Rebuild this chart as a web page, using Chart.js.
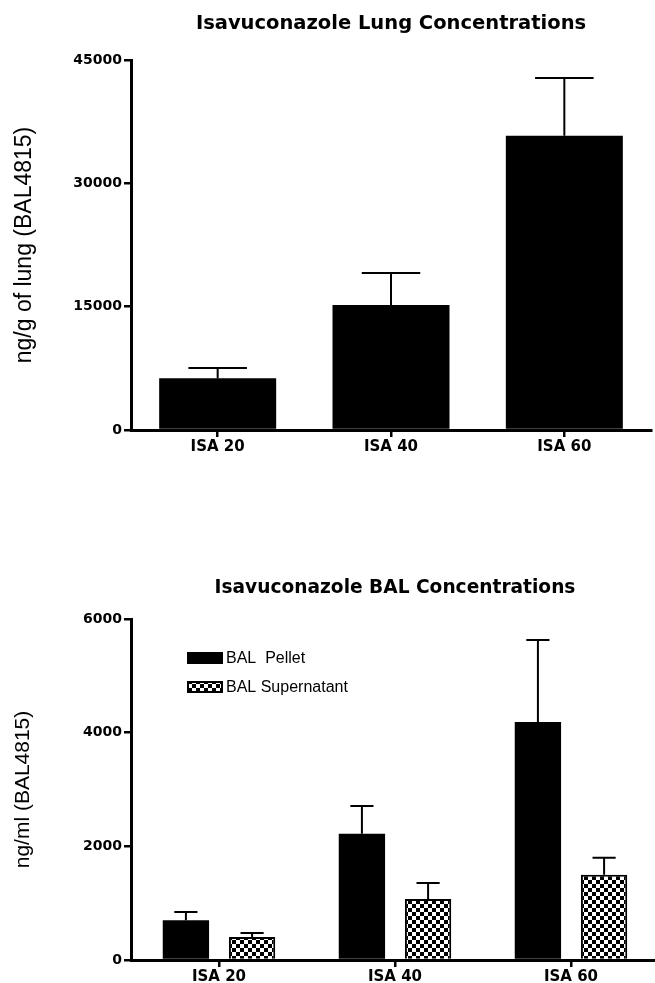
<!DOCTYPE html>
<html>
<head>
<meta charset="utf-8">
<script src="https://cdn.jsdelivr.net/npm/chart.js@4.4.1/dist/chart.umd.min.js"></script>
<style>
  html, body { margin: 0; padding: 0; background: #fff; }
  #wrap { position: relative; width: 655px; height: 983px; overflow: hidden; }
  #lungChart { position: absolute; left: 0; top: 0; }
  #balChart { position: absolute; left: 0; top: 500px; }
</style>
</head>
<body>
<div id="wrap">
  <canvas id="lungChart" width="655" height="500"></canvas>
  <canvas id="balChart" width="659" height="483"></canvas>
</div>
<script>
// categories and values
const doseLabels = ['ISA 20', 'ISA 40', 'ISA 60'];

const lungMean = [6300, 15200, 35800];
const lungSd = [1250, 3900, 7000];
const lungTicks = [0, 15000, 30000, 45000];

const pelletMean = [700, 2220, 4190];
const pelletSd = [145, 490, 1440];
const supMean = [405, 1075, 1500];
const supSd = [70, 280, 300];
const balTicks = [0, 2000, 4000, 6000];

const yTickFont = { family: 'DejaVu Sans', weight: 'bold', size: 14 };
const xTickFont = { family: 'DejaVu Sans', weight: 'bold', size: 15 };

// checkered fill for the supernatant bars
function checkerPattern() {
    const c = document.createElement('canvas');
    c.width = 8; c.height = 8;
    const g = c.getContext('2d');
    g.fillStyle = '#fff';
    g.fillRect(0, 0, 8, 8);
    g.fillStyle = '#000';
    g.fillRect(0, 0, 4, 4);
    g.fillRect(4, 4, 4, 4);
    return g.createPattern(c, 'repeat');
}

// upper error bars (mean + SD)
const errorBars = {
    id: 'errorBars',
    afterDatasetsDraw(chart) {
        const ctx = chart.ctx;
        const yScale = chart.scales.y;
        ctx.save();
        ctx.strokeStyle = '#000';
        ctx.lineWidth = 2;
        chart.data.datasets.forEach((ds, i) => {
            const meta = chart.getDatasetMeta(i);
            meta.data.forEach((bar, j) => {
                const yTop = yScale.getPixelForValue(ds.data[j] + ds.sd[j]);
                const half = bar.width / 4;
                ctx.beginPath();
                ctx.moveTo(bar.x, bar.y);
                ctx.lineTo(bar.x, yTop);
                ctx.moveTo(bar.x - half, yTop);
                ctx.lineTo(bar.x + half, yTop);
                ctx.stroke();
            });
        });
        ctx.restore();
    }
};

// legend drawn inside the plot area, as in the figure
const insideLegend = {
    id: 'insideLegend',
    afterDraw(chart) {
        const ctx = chart.ctx;
        const x = 187, rows = [158, 187];
        ctx.save();
        ctx.font = '16px "Liberation Sans"';
        ctx.textBaseline = 'middle';
        chart.data.datasets.forEach((ds, i) => {
            const y = rows[i];
            ctx.fillStyle = ds.backgroundColor;
            ctx.fillRect(x, y - 6, 36, 12);
            if (ds.borderWidth) {
                ctx.strokeStyle = '#000';
                ctx.lineWidth = 2;
                ctx.strokeRect(x + 1, y - 5, 34, 10);
            }
            ctx.fillStyle = '#000';
            ctx.fillText(ds.label, x + 39, y + 1);
        });
        ctx.restore();
    }
};

function scalesFor(yMax, yTitle, yTitleSize, yTicks, xHeight) {
    return {
        x: {
            afterFit(s) { s.height = xHeight; },
            grid: { display: true, drawOnChartArea: false, offset: false, color: '#000', tickLength: 7, lineWidth: 2.5 },
            border: { display: true, color: '#000', width: 3 },
            ticks: { color: '#000', font: xTickFont, padding: 1 }
        },
        y: {
            min: 0,
            max: yMax,
            afterFit(s) { s.width = 131; },
            afterBuildTicks(s) { s.ticks = yTicks.map(v => ({ value: v })); },
            grid: { display: true, drawOnChartArea: false, color: '#000', tickLength: 7, lineWidth: 2.5 },
            border: { display: true, color: '#000', width: 3 },
            ticks: { color: '#000', font: yTickFont, padding: 2, callback: v => String(v) },
            title: {
                display: true, text: yTitle, color: '#000',
                font: { family: 'Liberation Sans', size: yTitleSize },
                padding: { top: 11, bottom: 0 }
            }
        }
    };
}

new Chart(document.getElementById('lungChart'), {
    type: 'bar',
    data: {
        labels: doseLabels,
        datasets: [{
            label: 'Lung',
            data: lungMean,
            sd: lungSd,
            backgroundColor: '#000',
            borderWidth: 0,
            barPercentage: 0.675,
            categoryPercentage: 1
        }]
    },
    options: {
        responsive: false,
        animation: false,
        layout: { padding: { left: 0, right: 4, top: 0, bottom: 0 } },
        plugins: {
            legend: { display: false },
            tooltip: { enabled: false },
            title: {
                display: true,
                text: 'Isavuconazole Lung Concentrations',
                color: '#000',
                font: { family: 'DejaVu Sans', weight: 'bold', size: 19.5 },
                fullSize: false,
                padding: { top: 12, bottom: 24.6 }
            }
        },
        scales: scalesFor(45000, 'ng/g of lung (BAL4815)', 23, lungTicks, 70)
    },
    plugins: [errorBars]
});

new Chart(document.getElementById('balChart'), {
    type: 'bar',
    data: {
        labels: doseLabels,
        datasets: [{
            label: 'BAL  Pellet',
            data: pelletMean,
            sd: pelletSd,
            backgroundColor: '#000',
            borderWidth: 0,
            barPercentage: 0.7,
            categoryPercentage: 0.752
        }, {
            label: 'BAL Supernatant',
            data: supMean,
            sd: supSd,
            backgroundColor: checkerPattern(),
            borderColor: '#000',
            borderWidth: 2,
            borderSkipped: 'bottom',
            barPercentage: 0.7,
            categoryPercentage: 0.752
        }]
    },
    options: {
        responsive: false,
        animation: false,
        layout: { padding: { left: 0, right: 0, top: 0, bottom: 0 } },
        plugins: {
            legend: { display: false },
            tooltip: { enabled: false },
            title: {
                display: true,
                text: 'Isavuconazole BAL Concentrations',
                color: '#000',
                font: { family: 'DejaVu Sans', weight: 'bold', size: 18.6 },
                fullSize: false,
                padding: { top: 76.8, bottom: 19.9 }
            }
        },
        scales: scalesFor(6000, 'ng/ml (BAL4815)', 21, balTicks, 23)
    },
    plugins: [errorBars, insideLegend]
});
</script>
</body>
</html>
